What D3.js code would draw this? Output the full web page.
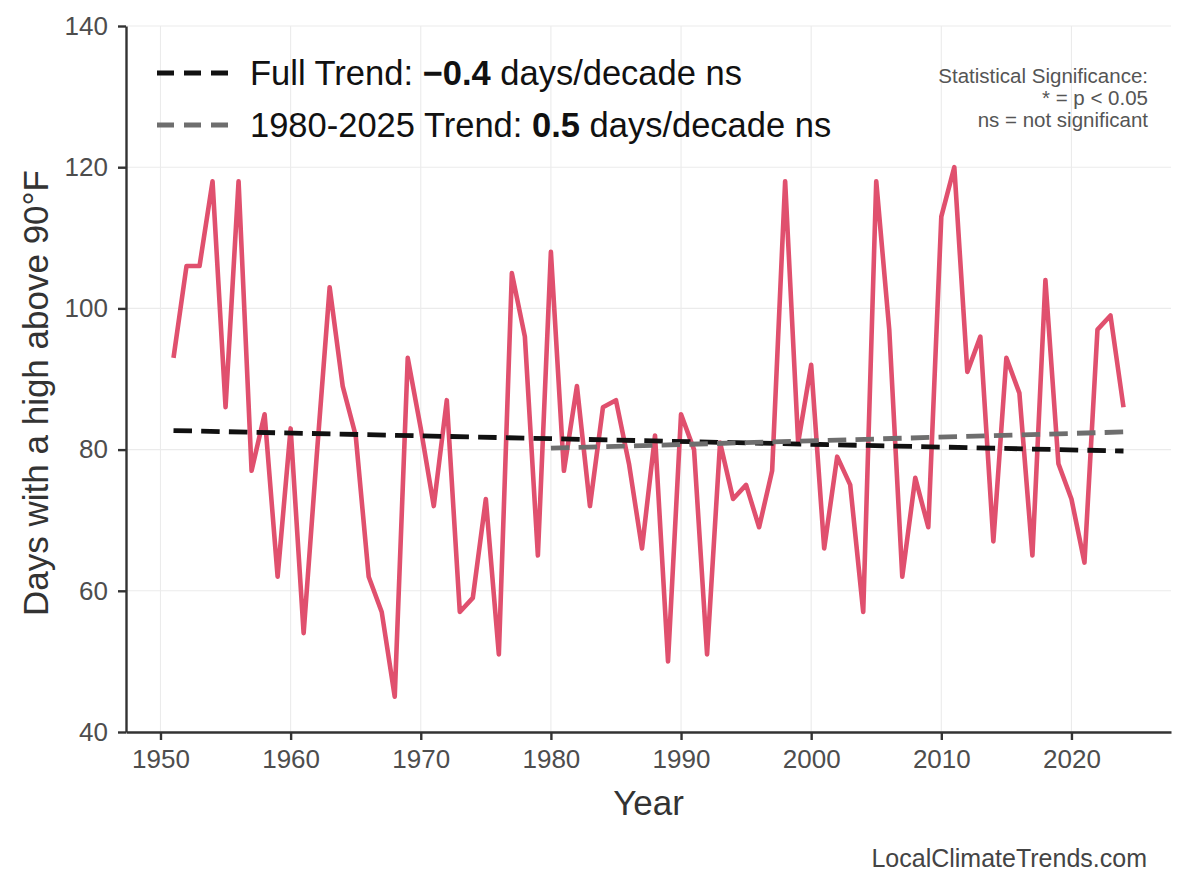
<!DOCTYPE html>
<html>
<head>
<meta charset="utf-8">
<script src="https://cdn.jsdelivr.net/npm/d3@7"></script>
<style>
  body { margin: 0; background: #fff; }
  svg { font-family: "Liberation Sans", Arial, sans-serif; }
  .axis path, .axis line { stroke: #333; stroke-width: 2.4; }
  .axis text { font-size: 26px; fill: #4d4d4d; }
  .grid line { stroke: #ebebeb; stroke-width: 1.1; }
</style>
</head>
<body>
<svg id="chart"></svg>
<script>
// yearly counts
const years = d3.range(1951, 2025);
const hotDays = [
  93, 106, 106, 118, 86, 118, 77, 85, 62, 83,
  54, 79, 103, 89, 82, 62, 57, 45, 93, 83,
  72, 87, 57, 59, 73, 51, 105, 96, 65, 108,
  77, 89, 72, 86, 87, 78, 66, 82, 50, 85,
  80, 51, 81, 73, 75, 69, 77, 118, 81, 92,
  66, 79, 75, 57, 118, 97, 62, 76, 69, 113,
  120, 91, 96, 67, 93, 88, 65, 104, 78, 73,
  64, 97, 99, 86,
];

// trend line ends as drawn
const fullTrendYears = [1951, 2024];
const fullTrendValues = [82.7, 79.8];
const recentTrendYears = [1980, 2024];
const recentTrendValues = [80.2, 82.5];

const xTicks = [1950, 1960, 1970, 1980, 1990, 2000, 2010, 2020];
const yTicks = [40, 60, 80, 100, 120, 140];

const legendItems = [
  { pre: 'Full Trend: ', bold: '\u22120.4', post: ' days/decade ns', color: '#111111' },
  { pre: '1980-2025 Trend: ', bold: '0.5', post: ' days/decade ns', color: '#6e6e6e' },
];
const sigLines = ['Statistical Significance:', '* = p < 0.05', 'ns = not significant'];

const width = 1184;
const height = 888;

const svg = d3.select('#chart')
  .attr('width', width)
  .attr('height', height);

const xScale = d3.scaleLinear()
  .domain([1947.35, 2027.65])
  .range([126, 1171]);
const yScale = d3.scaleLinear()
  .domain([40, 140])
  .range([732, 26]);

// Grid
const grid = svg.append('g').attr('class', 'grid');
grid.selectAll('.gx').data(xTicks).enter().append('line')
  .attr('x1', (d) => xScale(d)).attr('x2', (d) => xScale(d))
  .attr('y1', yScale(140)).attr('y2', yScale(40));
grid.selectAll('.gy').data(yTicks).enter().append('line')
  .attr('x1', xScale.range()[0]).attr('x2', xScale.range()[1])
  .attr('y1', (d) => yScale(d)).attr('y2', (d) => yScale(d));

// Axes
svg.append('g')
  .attr('class', 'axis')
  .attr('transform', `translate(0,${yScale(40)})`)
  .call(d3.axisBottom(xScale).tickValues(xTicks).tickFormat(d3.format('d'))
    .tickSize(8).tickSizeOuter(0).tickPadding(10));
svg.append('g')
  .attr('class', 'axis')
  .attr('transform', `translate(${xScale.range()[0]},0)`)
  .call(d3.axisLeft(yScale).tickValues(yTicks)
    .tickSize(8).tickSizeOuter(0).tickPadding(10));

// Axis titles
svg.append('text')
  .attr('x', (xScale.range()[0] + xScale.range()[1]) / 2)
  .attr('y', 815)
  .attr('text-anchor', 'middle')
  .style('font-size', '35px')
  .style('fill', '#333')
  .text('Year');
svg.append('text')
  .attr('transform', `translate(48,${(yScale(40) + yScale(140)) / 2 + 14}) rotate(-90)`)
  .attr('text-anchor', 'middle')
  .style('font-size', '35px')
  .style('fill', '#333')
  .text('Days with a high above 90°F');

// Series
const line = d3.line()
  .x((d) => xScale(d[0]))
  .y((d) => yScale(d[1]));

svg.append('path')
  .datum(years.map((yr, i) => [yr, hotDays[i]]))
  .attr('fill', 'none')
  .attr('stroke', '#e0506e')
  .attr('stroke-width', 4.6)
  .attr('stroke-linejoin', 'round')
  .attr('d', line);

svg.append('path')
  .datum(fullTrendYears.map((yr, i) => [yr, fullTrendValues[i]]))
  .attr('fill', 'none')
  .attr('stroke', legendItems[0].color)
  .attr('stroke-width', 4.8)
  .attr('stroke-dasharray', '18.5,9.2')
  .attr('d', line);

svg.append('path')
  .datum(recentTrendYears.map((yr, i) => [yr, recentTrendValues[i]]))
  .attr('fill', 'none')
  .attr('stroke', legendItems[1].color)
  .attr('stroke-width', 4.8)
  .attr('stroke-dasharray', '18.5,9.2')
  .attr('d', line);

// Legend
const legend = svg.append('g');
legendItems.forEach((item, i) => {
  const ly = 73 + i * 52;
  legend.append('line')
    .attr('x1', 157).attr('x2', 228)
    .attr('y1', ly).attr('y2', ly)
    .attr('stroke', item.color)
    .attr('stroke-width', 4.8)
    .attr('stroke-dasharray', '17,10');
  const t = legend.append('text')
    .attr('x', 250)
    .attr('y', ly + 12)
    .style('font-size', '34.5px')
    .style('fill', '#111');
  t.append('tspan').text(item.pre);
  t.append('tspan').style('font-weight', 'bold').text(item.bold);
  t.append('tspan').text(item.post);
});

// Significance note
svg.append('g').selectAll('text')
  .data(sigLines)
  .enter()
  .append('text')
  .attr('x', 1148)
  .attr('y', (d, i) => 83 + i * 22)
  .attr('text-anchor', 'end')
  .style('font-size', '20.5px')
  .style('fill', '#555')
  .text((d) => d);

svg.append('text')
  .attr('x', 1147)
  .attr('y', 867)
  .attr('text-anchor', 'end')
  .style('font-size', '25px')
  .style('fill', '#444')
  .text('LocalClimateTrends.com');
</script>
</body>
</html>
